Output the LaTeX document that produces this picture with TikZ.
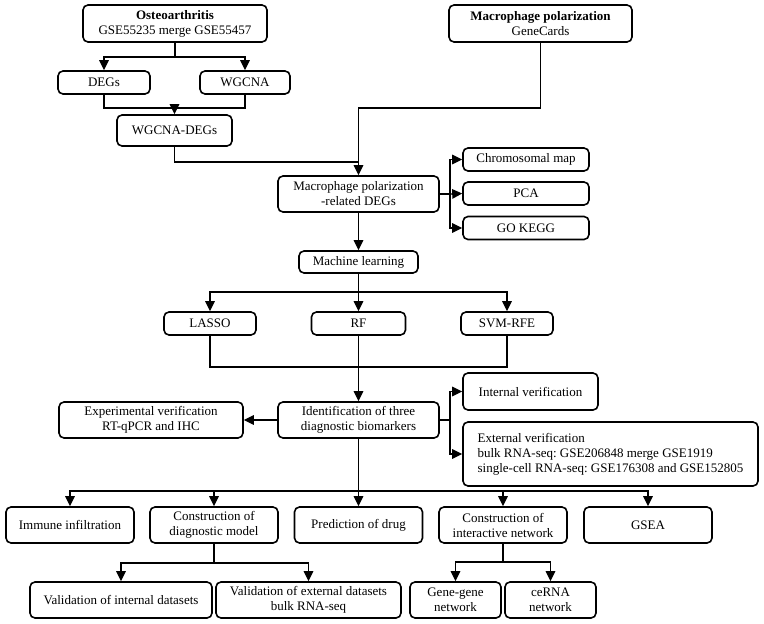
\documentclass[tikz,border=0pt]{standalone}
\usepackage{fontspec}
\setmainfont{Liberation Serif}
\usetikzlibrary{arrows.meta}
\frenchspacing
\begin{document}
\begin{tikzpicture}[x=1pt,y=-1pt,
  box/.style={draw, rounded corners=5pt, line width=1.6pt, align=center, inner sep=0pt,
    font=\fontsize{13}{15}\selectfont},
  conn/.style={line width=1.3pt},
  arr/.style={conn, -{Triangle[width=9.5pt,length=10pt]}}]
\useasboundingbox (0,0) rectangle (764,624);
% nodes
\node[box, minimum width=184pt, minimum height=37pt] (osteo) at (175,23.5) {\textbf{Osteoarthritis}\\GSE55235 merge GSE55457};
\node[box, minimum width=183pt, minimum height=37pt] (macro) at (540.5,23.5) {\textbf{Macrophage polarization}\\GeneCards};
\node[box, minimum width=92pt, minimum height=23pt] (degs) at (104,82.5) {DEGs};
\node[box, minimum width=90pt, minimum height=23pt] (wgcna) at (245,82.5) {WGCNA};
\node[box, minimum width=115pt, minimum height=31pt] (wd) at (174.5,130.5) {WGCNA-DEGs};
\node[box, minimum width=161pt, minimum height=36pt] (mpr) at (358.5,194) {Macrophage polarization\\-related DEGs};
\node[box, minimum width=126pt, minimum height=23pt] (chrom) at (526,159.5) {Chromosomal map};
\node[box, minimum width=126pt, minimum height=23pt] (pca) at (526,193.5) {PCA};
\node[box, minimum width=126pt, minimum height=23pt] (gokegg) at (526,228) {GO KEGG};
\node[box, minimum width=119pt, minimum height=22pt] (ml) at (358.5,262) {Machine learning};
\node[box, minimum width=92pt, minimum height=23pt] (lasso) at (210,323.5) {LASSO};
\node[box, minimum width=94pt, minimum height=23pt] (rf) at (358.5,323.5) {RF};
\node[box, minimum width=92pt, minimum height=23pt] (svm) at (507,323.5) {SVM-RFE};
\node[box, minimum width=161pt, minimum height=36pt] (ident) at (358.5,420) {Identification of three\\diagnostic biomarkers};
\node[box, minimum width=184pt, minimum height=36pt] (exp) at (151,420) {Experimental verification\\RT-qPCR and IHC};
\node[box, minimum width=135pt, minimum height=37pt] (internal) at (530.5,391.5) {Internal verification};
\node[box, minimum width=295pt, minimum height=64pt, align=left] (external) at (610.5,454) {External verification\\bulk RNA-seq: GSE206848 merge GSE1919\\single-cell RNA-seq: GSE176308 and GSE152805};
\node[box, minimum width=128pt, minimum height=36pt] (immune) at (70,525) {Immune infiltration};
\node[box, minimum width=128pt, minimum height=36pt] (diag) at (214,525) {Construction of\\diagnostic model};
\node[box, minimum width=128pt, minimum height=36pt] (pred) at (358.5,525) {Prediction of drug};
\node[box, minimum width=128pt, minimum height=36pt] (inter) at (503,525) {Construction of\\interactive network};
\node[box, minimum width=128pt, minimum height=36pt] (gsea) at (648,525) {GSEA};
\node[box, minimum width=182pt, minimum height=36pt] (valint) at (121,600) {Validation of internal datasets};
\node[box, minimum width=185pt, minimum height=36pt] (valext) at (308.5,600) {Validation of external datasets\\bulk RNA-seq};
\node[box, minimum width=91pt, minimum height=36pt] (gene) at (455.5,600) {Gene-gene\\network};
\node[box, minimum width=91pt, minimum height=36pt] (cerna) at (550.5,600) {ceRNA\\network};
% junctions
\coordinate (j1) at (175,57);
\coordinate (j2) at (174.5,108);
\coordinate (j3) at (358.5,162);
\coordinate (j4) at (358.5,108);
\coordinate (j5) at (450,194);
\coordinate (j6) at (358.5,292);
\coordinate (j7) at (358.5,367);
\coordinate (j8) at (450,420);
\coordinate (j9) at (358.5,491);
\coordinate (j10) at (214,563);
\coordinate (j11) at (503,562);
% connectors
\draw[conn] (osteo.south) -- (j1);
\draw[arr] (j1) -| (degs.north);
\draw[arr] (j1) -| (wgcna.north);
\draw[conn] (degs.south) |- (j2);
\draw[conn] (j2) -| (wgcna.south);
\draw[arr] (j2) -- (wd.north);
\draw[conn] (wd.south) |- (j3);
\draw[arr] (macro.south) |- (j4) -- (mpr.north);
\draw[conn] (mpr.east) -- (j5);
\draw[arr] (j5) |- (chrom.west);
\draw[arr] (j5) -- (pca.west);
\draw[arr] (j5) |- (gokegg.west);
\draw[arr] (mpr.south) -- (ml.north);
\draw[arr] (ml.south) -- (rf.north);
\draw[arr] (j6) -| (lasso.north);
\draw[arr] (j6) -| (svm.north);
\draw[conn] (lasso.south) |- (j7);
\draw[conn] (j7) -| (svm.south);
\draw[arr] (rf.south) -- (ident.north);
\draw[arr] (ident.west) -- (exp.east);
\draw[conn] (ident.east) -- (j8);
\draw[arr] (j8) |- (internal.west);
\draw[arr] (j8) |- (external.west);
\draw[arr] (ident.south) -- (pred.north);
\draw[arr] (j9) -| (immune.north);
\draw[arr] (j9) -| (diag.north);
\draw[arr] (j9) -| (inter.north);
\draw[arr] (j9) -| (gsea.north);
\draw[conn] (diag.south) -- (j10);
\draw[arr] (j10) -| (valint.north);
\draw[arr] (j10) -| (valext.north);
\draw[conn] (inter.south) -- (j11);
\draw[arr] (j11) -| (gene.north);
\draw[arr] (j11) -| (cerna.north);
\end{tikzpicture}
\end{document}
